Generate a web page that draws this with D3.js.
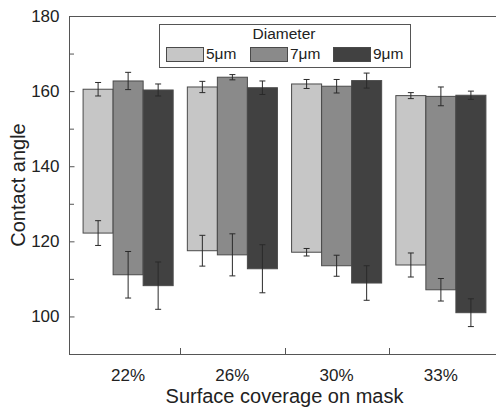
<!DOCTYPE html>
<html>
<head>
<meta charset="utf-8">
<script src="https://cdn.jsdelivr.net/npm/d3@7"></script>
<style>
body{margin:0;background:#fff;}
text{font-family:"Liberation Sans",Arial,sans-serif;fill:#222;}
</style>
</head>
<body>
<svg id="chart" width="496" height="410"></svg>
<script>
// surface coverage groups and diameters
const coverage = ["22%", "26%", "30%", "33%"];
const diameters = ["5μm", "7μm", "9μm"];
const colors = ["#c6c6c6", "#8a8a8a", "#414141"];

// upper (advancing) values and errors, one row per diameter
const topVal = [
  [160.5, 161.1, 161.9, 158.8],
  [162.7, 163.7, 161.3, 158.6],
  [160.3, 160.9, 162.8, 158.9]
];
const topErr = [
  [1.8, 1.5, 1.2, 0.8],
  [2.3, 0.7, 1.8, 2.5],
  [1.6, 1.8, 2.0, 1.1]
];
// lower (receding) values and errors
const lowVal = [
  [122.2, 117.5, 117.1, 113.7],
  [111.1, 116.4, 113.5, 107.1],
  [108.2, 112.7, 108.9, 101.0]
];
const lowErr = [
  [3.3, 4.1, 1.0, 3.2],
  [6.2, 5.6, 2.8, 3.0],
  [6.3, 6.4, 4.6, 3.7]
];
const yTicks = [100, 120, 140, 160, 180];
const yMinor = [110, 130, 150, 170];

let svg = d3.select("#chart");
let mLeft = 69, mRight = 496, mTop = 16, mBottom = 354;

let y = d3.scaleLinear().domain([90, 180]).range([mBottom, mTop]);
let x0 = d3.scaleBand().domain(coverage).range([76, 493])
  .paddingInner(0.136).paddingOuter(0.068);
let x1 = d3.scaleBand().domain(diameters).range([0, x0.bandwidth()]);

// build rows for the bars
let rows = [];
diameters.forEach((d, i) => {
  coverage.forEach((c, j) => {
    rows.push({dia: d, cov: c, color: colors[i],
      hi: topVal[i][j], hiE: topErr[i][j], lo: lowVal[i][j], loE: lowErr[i][j]});
  });
});

let g = svg.append("g");
g.selectAll("rect.bar").data(rows).join("rect")
  .attr("class", "bar")
  .attr("x", d => x0(d.cov) + x1(d.dia))
  .attr("width", x1.bandwidth())
  .attr("y", d => y(d.hi))
  .attr("height", d => y(d.lo) - y(d.hi))
  .attr("fill", d => d.color)
  .attr("stroke", "#4a4a4a")
  .attr("stroke-width", 1);

// error bars at both ends
let errs = [];
rows.forEach(r => {
  errs.push({cx: x0(r.cov) + x1(r.dia) + x1.bandwidth() / 2, v: r.hi, e: r.hiE});
  errs.push({cx: x0(r.cov) + x1(r.dia) + x1.bandwidth() / 2, v: r.lo, e: r.loE});
});
let eg = g.selectAll("g.err").data(errs).join("g").attr("class", "err")
  .attr("stroke", "#2a2a2a").attr("stroke-width", 1);
eg.append("line").attr("x1", d => d.cx).attr("x2", d => d.cx)
  .attr("y1", d => y(d.v + d.e)).attr("y2", d => y(d.v - d.e));
eg.append("line").attr("x1", d => d.cx - 3).attr("x2", d => d.cx + 3)
  .attr("y1", d => y(d.v + d.e)).attr("y2", d => y(d.v + d.e));
eg.append("line").attr("x1", d => d.cx - 3).attr("x2", d => d.cx + 3)
  .attr("y1", d => y(d.v - d.e)).attr("y2", d => y(d.v - d.e));

// frame
svg.append("rect").attr("x", mLeft + 0.5).attr("y", mTop + 0.5)
  .attr("width", mRight - mLeft).attr("height", mBottom - mTop)
  .attr("fill", "none").attr("stroke", "#555").attr("stroke-width", 1);

// y axis, ticks inside
let yAxis = svg.append("g").attr("transform", `translate(${mLeft + 0.5},0)`)
  .call(d3.axisLeft(y).tickValues(yTicks).tickSize(-5).tickPadding(10));
yAxis.select(".domain").remove();
yAxis.selectAll("line").attr("stroke", "#555");
yAxis.selectAll("text").attr("font-size", 17).attr("font-family", "Liberation Sans, Arial, sans-serif").attr("fill", "#222");
svg.append("g").selectAll("line").data(yMinor).join("line")
  .attr("x1", mLeft).attr("x2", mLeft + 5)
  .attr("y1", d => y(d) + 0.5).attr("y2", d => y(d) + 0.5)
  .attr("stroke", "#555");

// x axis: labels at group centers, ticks between groups
let xAxis = svg.append("g").attr("transform", `translate(0,${mBottom + 0.5})`)
  .call(d3.axisBottom(x0).tickSize(0).tickPadding(14));
xAxis.select(".domain").remove();
xAxis.selectAll("text").attr("font-size", 17).attr("font-family", "Liberation Sans, Arial, sans-serif").attr("fill", "#222");
let gap = x0.step() * x0.paddingInner();
svg.append("g").selectAll("line").data(coverage.slice(0, -1)).join("line")
  .attr("x1", d => Math.round(x0(d) + x0.bandwidth() + gap / 2) + 0.5)
  .attr("x2", d => Math.round(x0(d) + x0.bandwidth() + gap / 2) + 0.5)
  .attr("y1", mBottom).attr("y2", mBottom - 6)
  .attr("stroke", "#555");

// axis titles
svg.append("text").attr("x", (76 + 493) / 2).attr("y", 403)
  .attr("text-anchor", "middle").attr("font-size", 20)
  .text("Surface coverage on mask");
svg.append("text").attr("transform", `translate(25,${(mTop + mBottom) / 2}) rotate(-90)`)
  .attr("text-anchor", "middle").attr("font-size", 20)
  .text("Contact angle");

// legend
let lg = svg.append("g");
lg.append("rect").attr("x", 159.5).attr("y", 24.5).attr("width", 251).attr("height", 43)
  .attr("fill", "#fff").attr("stroke", "#555");
lg.append("text").attr("x", 284).attr("y", 39).attr("text-anchor", "middle")
  .attr("font-size", 15.5).text("Diameter");
let lx = [166.5, 250.5, 333.5];
let items = lg.selectAll("g.item").data(diameters).join("g").attr("class", "item")
  .attr("transform", (d, i) => `translate(${lx[i]},47.5)`);
items.append("rect").attr("width", 37).attr("height", 14)
  .attr("fill", (d, i) => colors[i]).attr("stroke", "#4a4a4a");
items.append("text").attr("x", 39.5).attr("y", 11.5).attr("font-size", 15.5).text(d => d);
</script>
</body>
</html>
